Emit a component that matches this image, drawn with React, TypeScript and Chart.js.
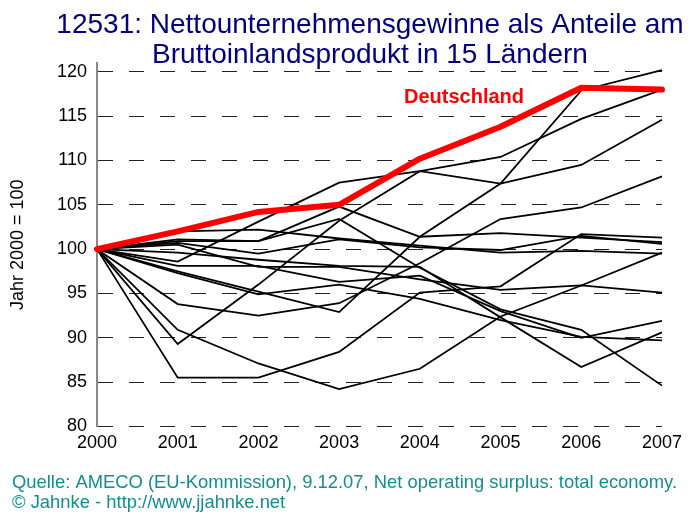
import React, { useEffect, useRef } from "react";
import { Chart, registerables } from "chart.js";

Chart.register(...registerables);

const years = ["2000", "2001", "2002", "2003", "2004", "2005", "2006", "2007"];
const yTicks = [80, 85, 90, 95, 100, 105, 110, 115, 120];

const deutschland = [100, 102.0, 104.2, 105.0, 110.2, 113.8, 118.2, 118.0];
const landA = [100, 85.5, 85.5, 88.4, 95.1, 95.8, 101.7, 101.3];
const landB = [100, 90.9, 87.1, 84.2, 86.5, 92.4, 95.9, 99.6];
const landC = [100, 89.3, 96.0, 103.2, 108.8, 107.4, 109.5, 114.6];
const landD = [100, 98.6, 103.1, 107.5, 108.8, 110.4, 114.7, 118.0];
const landE = [100, 102.0, 102.2, 101.2, 100.4, 99.6, 99.8, 99.5];
const landF = [100, 93.8, 92.5, 93.9, 98.4, 103.4, 104.7, 108.2];
const landG = [100, 97.5, 95.2, 92.9, 101.4, 107.4, 117.9, 120.2];
const landH = [100, 101.1, 100.9, 104.8, 101.4, 101.8, 101.3, 100.8];
const landI = [100, 100.9, 100.9, 103.4, 97.9, 93.2, 90.9, 84.6];
const landJ = [100, 99.6, 98.8, 98.1, 98.0, 92.3, 86.7, 90.6];
const landK = [100, 98.1, 98.1, 96.3, 97.0, 93.0, 90.0, 91.9];
const landL = [100, 100.5, 98.0, 98.0, 96.6, 95.4, 95.9, 95.1];
const landM = [100, 97.3, 94.9, 96.0, 94.4, 92.0, 90.1, 89.7];
const landN = [100, 100.7, 99.5, 101.1, 100.2, 99.9, 101.5, 100.6];

const otherLands = [landA, landB, landC, landD, landE, landF, landG, landH, landI, landJ, landK, landL, landM, landN];

const titleLines = ["12531: Nettounternehmensgewinne als Anteile am", "Bruttoinlandsprodukt in 15 Ländern"];
const footerLines = [
  "Quelle: AMECO (EU-Kommission), 9.12.07, Net operating surplus: total economy.",
  "© Jahnke - http://www.jjahnke.net",
];
const germanyLabel = "Deutschland";
const yTitle = "Jahr 2000 = 100";

const FONT = '"Liberation Sans", Arial, sans-serif';

const textPlugin = {
  id: "texts",
  afterDraw(chart: any) {
    const ctx = chart.ctx;
    ctx.save();
    ctx.fillStyle = "#000080";
    ctx.font = `28px ${FONT}`;
    ctx.textAlign = "center";
    ctx.textBaseline = "middle";
    ctx.fillText(titleLines[0], 370, 25);
    ctx.fillText(titleLines[1], 370, 55);

    ctx.fillStyle = "#ff0000";
    ctx.font = `bold 20px ${FONT}`;
    ctx.textAlign = "left";
    ctx.fillText(germanyLabel, 404, 97);

    ctx.fillStyle = "#118f8f";
    ctx.font = `18.4px ${FONT}`;
    ctx.fillText(footerLines[0], 12, 483);
    ctx.fillText(footerLines[1], 12, 503);
    ctx.restore();
  },
};

export default function App() {
  const ref = useRef<HTMLCanvasElement>(null);
  useEffect(() => {
    document.body.style.margin = "0";
    const datasets: any[] = [
      {
        label: germanyLabel,
        data: deutschland,
        borderColor: "#ff0000",
        borderWidth: 6,
        pointRadius: 0,
        tension: 0,
        borderCapStyle: "round",
        borderJoinStyle: "round",
      },
      ...otherLands.map((d, i) => ({
        label: "Land " + (i + 1),
        data: d,
        borderColor: "#000000",
        borderWidth: 1.8,
        pointRadius: 0,
        tension: 0,
      })),
    ];
    const chart = new Chart(ref.current!, {
      type: "line",
      data: { labels: years, datasets },
      options: {
        animation: false,
        responsive: false,
        layout: { padding: { top: 63, right: 26, left: 0, bottom: 55 } },
        plugins: { legend: { display: false }, tooltip: { enabled: false }, title: { display: false } },
        scales: {
          x: {
            offset: false,
            grid: { display: false, drawTicks: false },
            border: { display: false },
            ticks: { color: "#000", font: { family: FONT, size: 18 }, padding: 6, maxRotation: 0 },
          },
          y: {
            min: 80,
            max: 121,
            afterFit: (s: any) => {
              s.width = 97;
            },
            ticks: {
              stepSize: 5,
              includeBounds: false,
              color: "#000",
              font: { family: FONT, size: 18 },
              padding: 10,
            },
            afterBuildTicks: (s: any) => {
              s.ticks = yTicks.map((v) => ({ value: v }));
            },
            grid: { color: "#222", lineWidth: 1, drawTicks: false },
            border: { display: true, color: "#888", width: 2, dash: [15, 16] },
            title: {
              display: true,
              text: yTitle,
              color: "#000",
              font: { family: FONT, size: 18 },
              padding: { top: 7, bottom: 0 },
            },
          },
        },
      },
      plugins: [textPlugin],
    });
    return () => chart.destroy();
  }, []);
  return (
    <div style={{ position: "absolute", left: 0, top: 0, width: 688, height: 515 }}>
      <canvas ref={ref} width={688} height={515} />
    </div>
  );
}
